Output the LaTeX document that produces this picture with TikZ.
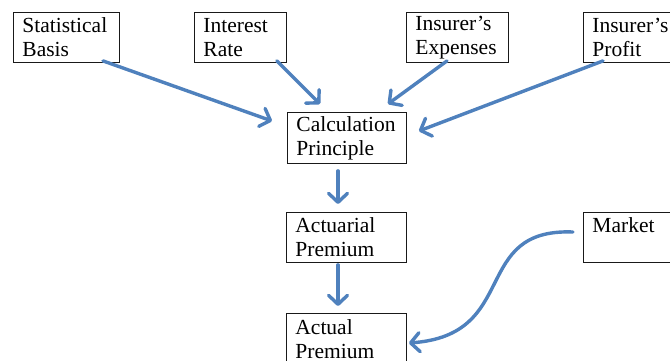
\documentclass[tikz,border=0pt]{standalone}
\usepackage{fontspec}
\setmainfont{Liberation Serif}
\usetikzlibrary{arrows.meta,calc}
\definecolor{arrowblue}{RGB}{79,129,189}
\tikzset{
  box/.style={draw=black!90, line width=0.9pt, anchor=north west, inner xsep=9pt, inner ysep=0pt,
    align=left, font=\fontsize{21.5}{24}\selectfont, fill=white},
  flow/.style={draw=arrowblue, line width=3.4pt, line cap=round, line join=round,
    -{Straight Barb[length=9pt,width=19pt,line cap=round,line join=round]}}
}
\begin{document}
\begin{tikzpicture}[x=1pt,y=-1pt]
\useasboundingbox (0,0) rectangle (670,361);
\clip (0,0) rectangle (670,361);
\fill[white] (0,0) rectangle (670,361);
\node[box, text width=88pt, minimum height=50pt] (sb) at (13,12) {Statistical\\Basis};
\node[box, text width=74pt, minimum height=50pt] (ir) at (194,12) {Interest\\Rate};
\node[box, text width=84pt, minimum height=50pt] (ie) at (406,12) {Insurer’s\\Expenses};
\node[box, text width=84pt, minimum height=50pt] (ip) at (583,12) {Insurer’s\\Profit};
\node[box, text width=101pt, minimum height=51pt] (cp) at (287,112) {Calculation\\Principle};
\node[box, text width=102pt, minimum height=50pt] (ap) at (286,212) {Actuarial\\Premium};
\node[box, text width=84pt, minimum height=50pt] (mk) at (583,212) {Market\\\mbox{}};
\node[box, text width=102pt, minimum height=52pt] (act) at (286,313) {Actual\\Premium};

\draw[flow] ([xshift=90pt,yshift=2pt]sb.south west) -- ([xshift=-15pt,yshift=-9pt]cp.north west);
\draw[flow] ([xshift=-10pt,yshift=2pt]ir.south east) -- ([xshift=33pt,yshift=8pt]cp.north west);
\draw[flow] ([xshift=41pt,yshift=2pt]ie.south west) -- ([xshift=-19pt,yshift=8pt]cp.north east);
\draw[flow] ([xshift=20pt,yshift=2pt]ip.south west) -- ([xshift=12pt,yshift=-19pt]cp.north east);
\draw[flow] ([xshift=51pt,yshift=-7pt]cp.south west) -- ([xshift=52pt,yshift=8pt]ap.north west);
\draw[flow] ([xshift=52pt,yshift=-2pt]ap.south west) -- ([xshift=52pt,yshift=7pt]act.north west);
\draw[flow] ([xshift=-10pt,yshift=-20pt]mk.north west) .. controls +(-103,-4) and +(112,-8) .. ([xshift=2pt,yshift=-30pt]act.north east);
\end{tikzpicture}
\end{document}
